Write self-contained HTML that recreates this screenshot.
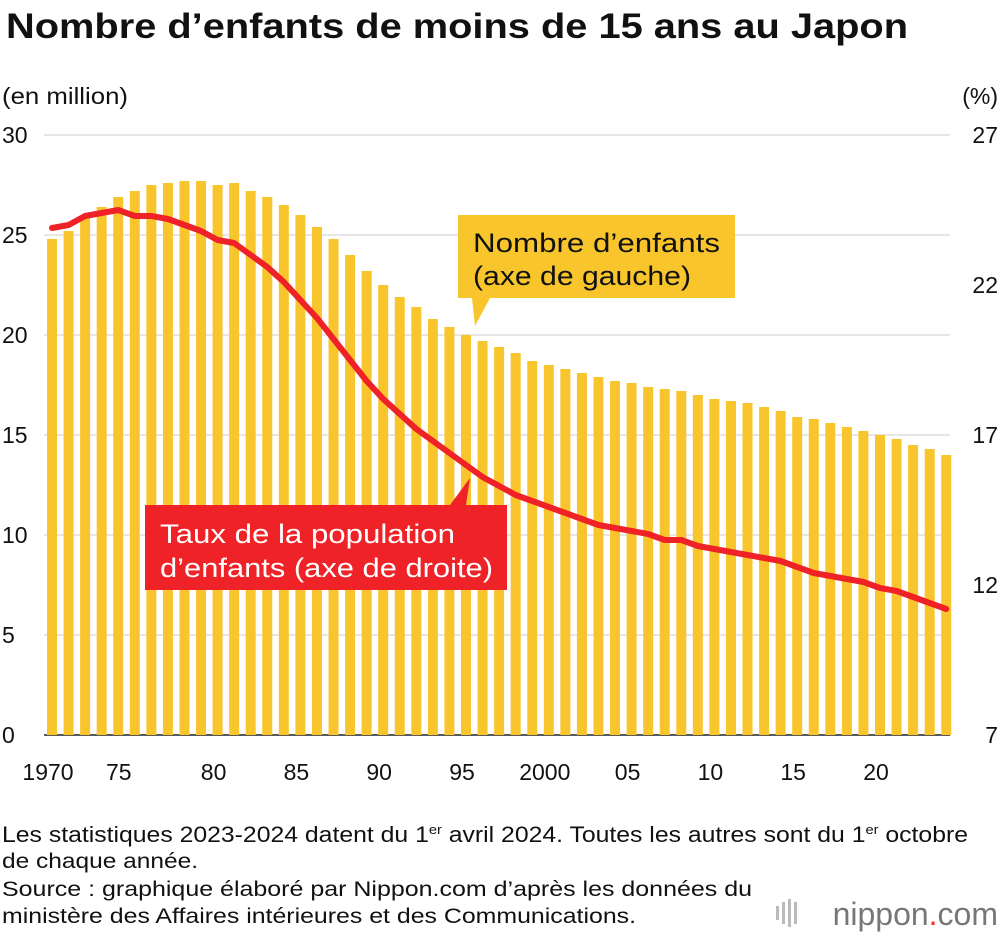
<!DOCTYPE html>
<html><head><meta charset="utf-8"><style>
body{margin:0;background:#fff;font-family:"Liberation Sans",sans-serif;}
</style></head><body>
<svg width="1000" height="934" xmlns="http://www.w3.org/2000/svg" font-family="Liberation Sans, sans-serif">
<text x="6" y="38" font-size="35" font-weight="bold" fill="#111" textLength="902" lengthAdjust="spacingAndGlyphs">Nombre d’enfants de moins de 15 ans au Japon</text>
<text x="2" y="104" font-size="23" fill="#111" textLength="126" lengthAdjust="spacingAndGlyphs">(en million)</text>
<text x="998" y="104" font-size="23" fill="#111" text-anchor="end">(%)</text>
<g id="grid"></g><g id="bars"></g><g id="line"></g><g id="ticks"></g>
<g>
<path d="M458,215H735V298H490L475,326L472,298H458Z" fill="#f8c62c"/>
<text x="473" y="252" font-size="27" fill="#111" textLength="247" lengthAdjust="spacingAndGlyphs">Nombre d’enfants</text>
<text x="473" y="285" font-size="27" fill="#111" textLength="218" lengthAdjust="spacingAndGlyphs">(axe de gauche)</text>
</g>
<g>
<path d="M145,505H450L470,478L466,505H507V590H145Z" fill="#ee2227"/>
<text x="160" y="543" font-size="27" fill="#fff" textLength="295" lengthAdjust="spacingAndGlyphs">Taux de la population</text>
<text x="160" y="577" font-size="27" fill="#fff" textLength="333" lengthAdjust="spacingAndGlyphs">d’enfants (axe de droite)</text>
</g>
<g font-size="21" fill="#111">
<text x="2" y="842" font-size="22" textLength="966" lengthAdjust="spacingAndGlyphs">Les statistiques 2023-2024 datent du 1<tspan font-size="13" dy="-8">er</tspan><tspan dy="8"> avril 2024. Toutes les autres sont du 1</tspan><tspan font-size="13" dy="-8">er</tspan><tspan dy="8"> octobre</tspan></text>
<text x="2" y="868" textLength="196" lengthAdjust="spacingAndGlyphs">de chaque année.</text>
<text x="2" y="896" textLength="750" lengthAdjust="spacingAndGlyphs">Source : graphique élaboré par Nippon.com d’après les données du</text>
<text x="2" y="923" textLength="634" lengthAdjust="spacingAndGlyphs">ministère des Affaires intérieures et des Communications.</text>
</g>
<g fill="#bbb">
<rect x="776" y="906" width="3" height="14"/><rect x="782" y="902" width="3" height="22"/><rect x="788" y="899" width="3" height="28"/><rect x="794" y="902" width="3" height="22"/>
</g>
<text x="998" y="925" font-size="32" fill="#777" text-anchor="end">nippon<tspan fill="#e33">.</tspan>com</text>
</svg>
<script>
const years=[];for(let y=1970;y<=2024;y++)years.push(y);
const children=[24.8,25.2,25.9,26.4,26.9,27.2,27.5,27.6,27.7,27.7,27.5,27.6,27.2,26.9,26.5,26.0,25.4,24.8,24.0,23.2,22.5,21.9,21.4,20.8,20.4,20.0,19.7,19.4,19.1,18.7,18.5,18.3,18.1,17.9,17.7,17.6,17.4,17.3,17.2,17.0,16.8,16.7,16.6,16.4,16.2,15.9,15.8,15.6,15.4,15.2,15.0,14.8,14.5,14.3,14.0];
const share=[23.9,24.0,24.3,24.4,24.5,24.3,24.3,24.2,24.0,23.8,23.5,23.4,23.0,22.6,22.1,21.5,20.9,20.2,19.5,18.8,18.2,17.7,17.2,16.8,16.4,16.0,15.6,15.3,15.0,14.8,14.6,14.4,14.2,14.0,13.9,13.8,13.7,13.5,13.5,13.3,13.2,13.1,13.0,12.9,12.8,12.6,12.4,12.3,12.2,12.1,11.9,11.8,11.6,11.4,11.2];
const leftTicks=[0,5,10,15,20,25,30];
const rightTicks=[7,12,17,22,27];
const xTickYears=[1970,1975,1980,1985,1990,1995,2000,2005,2010,2015,2020];
const xTickLabels=["1970","75","80","85","90","95","2000","05","10","15","20"];
const NS="http://www.w3.org/2000/svg";
const x=y=>52+(y-1970)*16.56;
const yl=v=>735-v*20;
const yr=v=>735-(v-7)*30;
function mk(t,a,p){const e=document.createElementNS(NS,t);for(const k in a)e.setAttribute(k,a[k]);document.getElementById(p).appendChild(e);return e;}
leftTicks.forEach(v=>{
 const l=mk('line',{x1:44,x2:950,y1:yl(v),y2:yl(v),stroke:v===0?'#222':'#ccc','stroke-width':v===0?1.5:1},'grid');
 
 
 const t=mk('text',{x:2,y:yl(v)+8,'font-size':23,fill:'#111'},'ticks');t.textContent=v;
 
 
});
rightTicks.forEach(v=>{
 const t=mk('text',{x:998,y:yr(v)+8,'font-size':23,fill:'#111','text-anchor':'end'},'ticks');t.textContent=v;
 
 
});
xTickYears.forEach((yy,i)=>{
 const t=mk('text',{x:x(yy)-4-(yy===1975?12:0),y:780,'font-size':23,fill:'#111','text-anchor':'middle'},'ticks');t.textContent=xTickLabels[i];
 
 
});
years.forEach((yy,i)=>{
 const b=mk('rect',{x:x(yy)-5,y:yl(children[i]),width:10,height:yl(0)-yl(children[i]),fill:'#f8c62c'},'bars');
 
 
});
const p=mk('polyline',{points:years.map((yy,i)=>x(yy)+','+yr(share[i])).join(' '),fill:'none',stroke:'#ee2227','stroke-width':6,'stroke-linejoin':'round','stroke-linecap':'round'},'line');


</script>
</body></html>
